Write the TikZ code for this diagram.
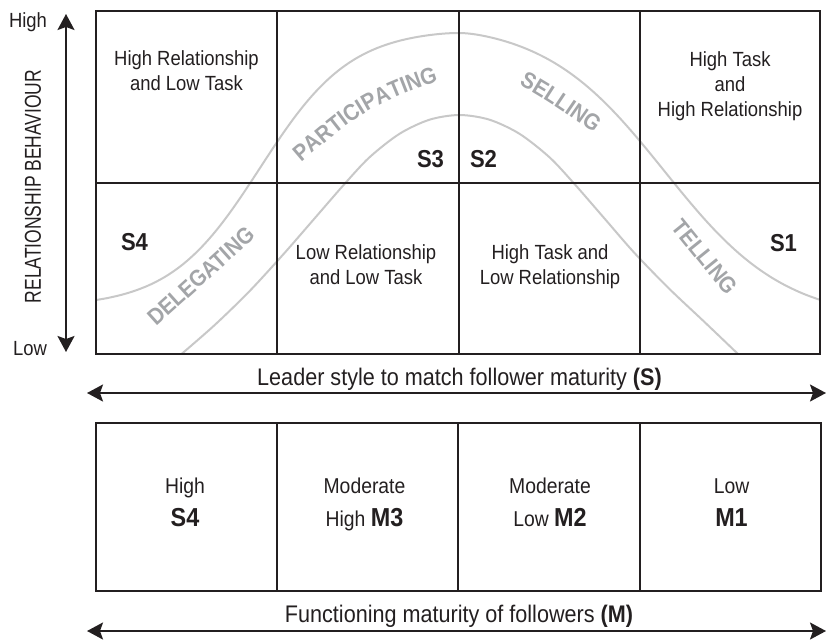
\documentclass[tikz,border=0pt]{standalone}
\usepackage{fontspec}
\setmainfont{Liberation Sans}[FakeStretch=0.9]
\newfontfamily\narrowfont{Liberation Sans}[FakeStretch=0.76]
\usetikzlibrary{arrows.meta,decorations.text}
\definecolor{ink}{RGB}{35,31,32}
\definecolor{curvegray}{RGB}{200,200,200}
\definecolor{stygray}{RGB}{163,165,168}
\newcommand\fcell{\fontsize{20.5}{25}\selectfont}
\newcommand\faxis{\fontsize{24}{28}\selectfont}
\newcommand\fslab{\fontsize{24.5}{28}\selectfont\bfseries}
\newcommand\fbl{\fontsize{21.5}{25}\selectfont}
\newcommand\fbb{\fontsize{26}{30}\selectfont\bfseries}
\newcommand\fsty{\fontsize{23}{26}\selectfont\bfseries}
\newcommand\fvert{\narrowfont\fontsize{23}{26}\selectfont}
\begin{document}
\begin{tikzpicture}[x=1pt,y=-1pt,
  declare function={ue(\t)=sqrt(\t*\t+0.0025)-0.05;
                    lg(\t)=1/(1+exp(-8*(\t-0.5)));
                    og(\t)=(lg(ue(\t))-0.01799)/0.95567;
                    lgr(\t)=1/(1+exp(-6*(\t-0.52)));
                    ogr(\t)=(lgr(ue(\t))-0.04228)/0.88777;
                    bellh(\t)=ifthenelse(\t<0, og(-\t/362), ogr(\t/362));},
  gridline/.style={draw=ink, line width=2pt},
  bell/.style={draw=curvegray, line width=2pt},
  celltext/.style={font=\fcell, text=ink, align=center, inner sep=0pt},
  slabel/.style={font=\fslab, text=ink, inner sep=0pt},
  botlight/.style={font=\fbl, text=ink, inner sep=0pt, anchor=base},
  botbold/.style={font=\fbb, text=ink, inner sep=0pt, anchor=base},
  axistext/.style={font=\faxis, text=ink, inner sep=0pt, anchor=base},
  stylbl/.style={font=\fsty, text=stygray, inner sep=0pt},
  axisarrow/.style={draw=ink, line width=2pt,
    {Stealth[length=16pt,width=17pt,inset=3pt]}-{Stealth[length=16pt,width=17pt,inset=3pt]}}
]
\useasboundingbox (0,0) rectangle (827,640);

% bell curves
\draw[bell] plot[domain=-362:362, samples=145, smooth] ({458.5+\x}, {33+267*bellh(\x)});
\draw[bell] plot[smooth] coordinates {(181.5,354) (214.5,325.2) (249.5,291.2) (284.5,253) (314.5,218.5) (344.5,184) (369.5,157.3) (399.5,133.8) (429.5,119.7) (459.5,115) (489.5,119.7) (519.5,133.8) (549.5,157.3) (574.5,184) (604.5,218.5) (634.5,253) (669.5,289) (704.5,322) (738,354)};

% main grid
\draw[gridline] (96,11) rectangle (820,354);
\draw[gridline] (277,11) -- (277,354);
\draw[gridline] (459,11) -- (459,354);
\draw[gridline] (640,11) -- (640,354);
\draw[gridline] (96,183) -- (820,183);

% bottom grid
\draw[gridline] (96,423) rectangle (821,591);
\draw[gridline] (277,423) -- (277,591);
\draw[gridline] (458,423) -- (458,591);
\draw[gridline] (640,423) -- (640,591);

% arrows
\coordinate (vtop) at (66,14);
\coordinate (vbot) at (66,352);
\coordinate (sl) at (87,393);
\coordinate (sr) at (826,393);
\coordinate (ml) at (87,631);
\coordinate (mr) at (826,631);
\draw[axisarrow] (vtop) -- (vbot);
\draw[axisarrow] (sl) -- (sr);
\draw[axisarrow] (ml) -- (mr);

% axis labels
\node[celltext, anchor=base] (hi) at (28,27) {High};
\node[celltext, anchor=base] (lo) at (30,355) {Low};
\node[font=\fvert, text=ink, inner sep=0pt, rotate=90] (rb) at (33,186.5) {RELATIONSHIP BEHAVIOUR};
\node[axistext] (lead) at (459.5,385) {Leader style to match follower maturity \textbf{(S)}};
\node[axistext] (func) at (459,622) {Functioning maturity of followers \textbf{(M)}};

% cell texts
\node[celltext] (c11) at (186.5,71) {High Relationship\\and Low Task};
\node[celltext] (c14) at (730,86.3) {High Task\\and\\High Relationship};
\node[celltext] (c22) at (366,264.5) {Low Relationship\\and Low Task};
\node[celltext] (c23) at (550,266.7) {High Task and\\Low Relationship};

% style codes
\node[slabel] (s4) at (134.5,242) {S4};
\node[slabel] (s3) at (430.5,159) {S3};
\node[slabel] (s2) at (483.5,159) {S2};
\node[slabel] (s1) at (783.5,243.5) {S1};

% style names
\node[stylbl, rotate=42] (deleg) at (201,276) {DELEGATING};
\node[stylbl, rotate=-51] (tell) at (705,257) {TELLING};
\path[decorate, decoration={text along path, text align=center,
  text={|\fsty\color{stygray}|PARTICIPATING}}]
  (285,177) -- (300,164) .. controls (352,120) and (366,105) .. (440,81) -- (459,75);
\path[decorate, decoration={text along path, text align=center,
  text={|\fsty\color{stygray}|SELLING}}]
  (498,75) -- (512,81) .. controls (539,94) and (576,120) .. (600,138) -- (612,147);

% maturity boxes
\node[botlight] (b1a) at (185,493) {High};
\node[botbold] (b1b) at (185,526) {S4};
\node[botlight] (b2a) at (364.5,493) {Moderate};
\node[botlight] (b2b) at (364.5,526) {High {\fbb M3}};
\node[botlight] (b3a) at (550,493) {Moderate};
\node[botlight] (b3b) at (550,526) {Low {\fbb M2}};
\node[botlight] (b4a) at (731.5,493) {Low};
\node[botbold] (b4b) at (731.5,526) {M1};
\end{tikzpicture}
\end{document}
